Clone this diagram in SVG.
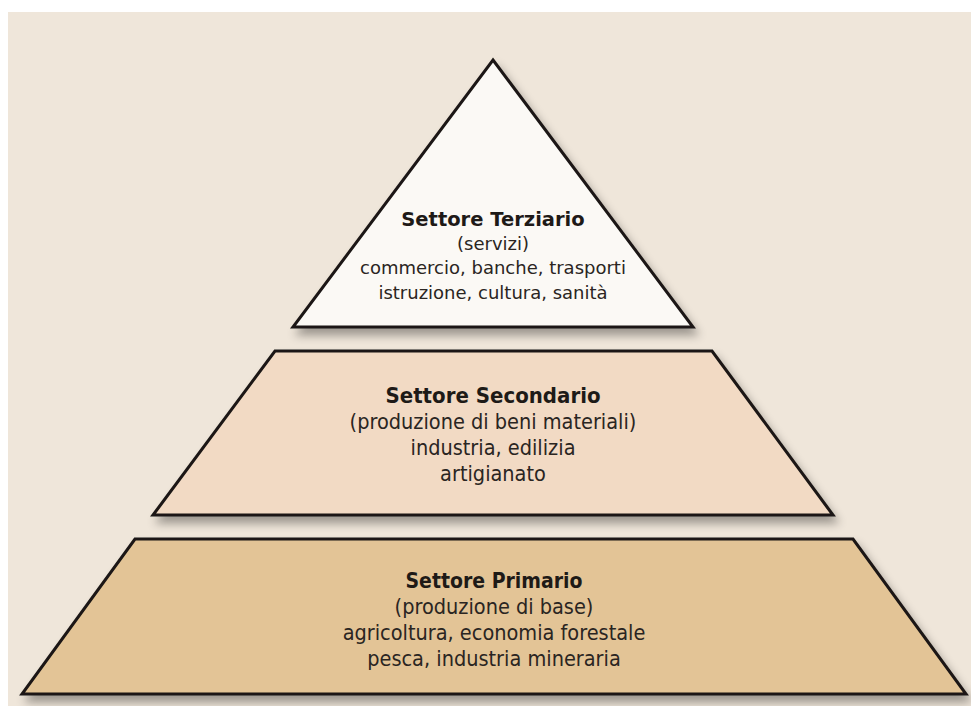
<svg xmlns="http://www.w3.org/2000/svg" width="971" height="706" viewBox="0 0 971 706">
  <defs>
    <filter id="shadow" x="-10%" y="-10%" width="125%" height="130%">
      <feGaussianBlur in="SourceAlpha" stdDeviation="5"/>
      <feOffset dx="4" dy="7" result="b"/>
      <feComponentTransfer><feFuncA type="linear" slope="0.35"/></feComponentTransfer>
      <feMerge><feMergeNode/><feMergeNode in="SourceGraphic"/></feMerge>
    </filter>
  </defs>
  <style>
    .tier { stroke: #1b1714; stroke-width: 3; stroke-linejoin: miter; }
    .title { font-family: "DejaVu Sans", "Liberation Sans", sans-serif; font-weight: bold; font-size: 19.5px; fill: #1e1a17; text-anchor: middle; }
    .body { font-family: "DejaVu Sans", "Liberation Sans", sans-serif; font-size: 18px; fill: #2a2522; text-anchor: middle; }
    .cond { font-family: "DejaVu Sans Condensed", "DejaVu Sans", sans-serif; font-stretch: condensed; font-size: 21.5px; }
    .title.cond { font-size: 22px; }
  </style>
  <rect x="0" y="0" width="971" height="706" fill="#ffffff"/>
  <rect x="8" y="12" width="963" height="694" fill="#efe6da"/>

  <!-- top tier: services -->
  <g id="terziario">
    <polygon class="tier" filter="url(#shadow)" points="493,60 693,327 293,327" fill="#fbf9f5"/>
    <text class="title" x="493" y="226">Settore Terziario</text>
    <text class="body" x="493" y="250">(servizi)</text>
    <text class="body" x="493" y="274">commercio, banche, trasporti</text>
    <text class="body" x="493" y="299">istruzione, cultura, sanità</text>
  </g>

  <!-- middle tier: manufacturing -->
  <g id="secondario">
    <polygon class="tier" filter="url(#shadow)" points="275,351 712,351 833,515 153,515" fill="#f2dac4"/>
    <text class="title cond" x="493" y="403">Settore Secondario</text>
    <text class="body cond" x="493" y="429">(produzione di beni materiali)</text>
    <text class="body cond" x="493" y="455">industria, edilizia</text>
    <text class="body cond" x="493" y="481">artigianato</text>
  </g>

  <!-- bottom tier: primary production -->
  <g id="primario">
    <polygon class="tier" filter="url(#shadow)" points="135,539 853,539 966,694 22,694" fill="#e3c496"/>
    <text class="title cond" x="494" y="588" style="font-size:21px">Settore Primario</text>
    <text class="body cond" x="494" y="614">(produzione di base)</text>
    <text class="body cond" x="494" y="640">agricoltura, economia forestale</text>
    <text class="body cond" x="494" y="666">pesca, industria mineraria</text>
  </g>
</svg>
